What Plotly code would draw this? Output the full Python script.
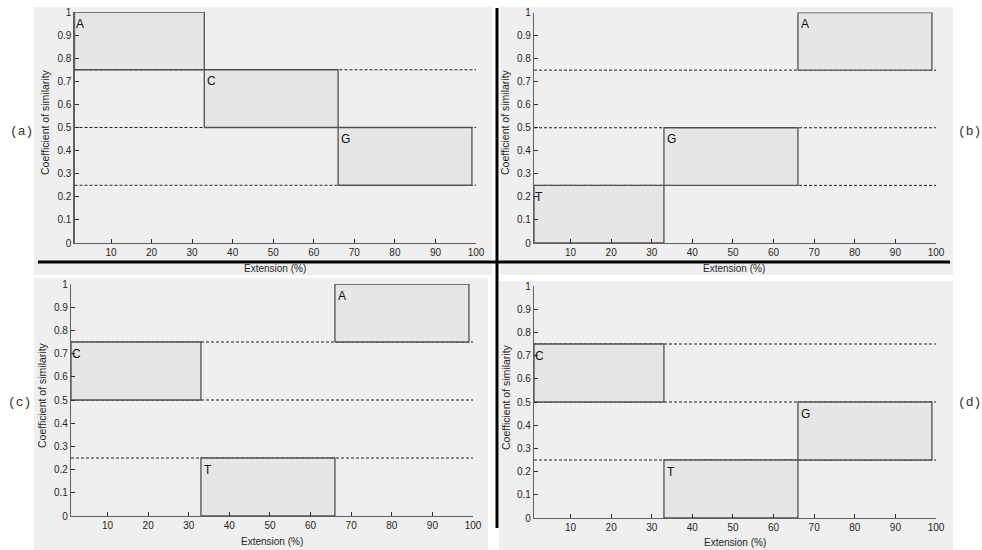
import plotly.graph_objects as go

W, H = 982, 550

# ---- data ----
panel_names = ["(a)", "(b)", "(c)", "(d)"]
a_letters = ["A", "C", "G"]
a_x0 = [1, 33, 66]
a_x1 = [33, 66, 99]
a_y0 = [0.75, 0.5, 0.25]
a_y1 = [1.0, 0.75, 0.5]

b_letters = ["T", "G", "A"]
b_x0 = [1, 33, 66]
b_x1 = [33, 66, 99]
b_y0 = [0.0, 0.25, 0.75]
b_y1 = [0.25, 0.5, 1.0]

c_letters = ["C", "T", "A"]
c_x0 = [1, 33, 66]
c_x1 = [33, 66, 99]
c_y0 = [0.5, 0.0, 0.75]
c_y1 = [0.75, 0.25, 1.0]

d_letters = ["C", "T", "G"]
d_x0 = [1, 33, 66]
d_x1 = [33, 66, 99]
d_y0 = [0.5, 0.0, 0.25]
d_y1 = [0.75, 0.25, 0.5]

threshold_levels = [0.25, 0.5, 0.75]
x_range = [1, 100]
y_range = [0, 1]
x_tick_vals = [10, 20, 30, 40, 50, 60, 70, 80, 90, 100]
x_tick_text = ["10", "20", "30", "40", "50", "60", "70", "80", "90", "100"]
y_tick_vals = [0, 0.1, 0.2, 0.3, 0.4, 0.5, 0.6, 0.7, 0.8, 0.9, 1.0]
y_tick_text = ["0", "0.1", "0.2", "0.3", "0.4", "0.5", "0.6", "0.7", "0.8", "0.9", "1"]
x_title = "Extension (%)"
y_title = "Coefficient of similarity"

panels = [
    (a_letters, a_x0, a_x1, a_y0, a_y1),
    (b_letters, b_x0, b_x1, b_y0, b_y1),
    (c_letters, c_x0, c_x1, c_y0, c_y1),
    (d_letters, d_x0, d_x1, d_y0, d_y1),
]

# ---- layout geometry (page pixels) ----
areas = [
    (74.5, 476, 12, 243),
    (534, 936, 12.5, 243),
    (71, 473, 284, 516),
    (534, 936, 286, 518),
]
bgs = [
    (34, 492, 7, 275),
    (500, 953, 7, 275),
    (34, 488, 278, 550),
    (499, 953, 281, 550),
]
ytitle_pos = [(45, 122), (505, 122), (42, 395), (506, 397)]
xtitle_pos = [(275, 268), (734, 268), (272, 541), (735, 542)]
plabel_pos = [(21, 131), (969, 131), (19, 402), (969, 402)]


def px(x):
    return x / W


def py(y):
    return 1 - y / H


fig = go.Figure()
shapes = []
annotations = []

for b in bgs:
    shapes.append(dict(type="rect", xref="paper", yref="paper",
                       x0=px(b[0]), x1=px(b[1]), y0=py(b[3]), y1=py(b[2]),
                       fillcolor="#efefef", line=dict(width=0), layer="below"))

tickfont = dict(family="Liberation Sans, Arial, sans-serif", size=10, color="#262626")
xtitle_font = dict(family="Liberation Sans, Arial, sans-serif", size=10, color="#262626")
ytitle_font = dict(family="Liberation Sans, Arial, sans-serif", size=10.5, color="#262626")

for i, (letters, x0s, x1s, y0s, y1s) in enumerate(panels):
    n = "" if i == 0 else str(i + 1)
    xa = "x" + n
    ya = "y" + n
    l, r, t, bt = areas[i]
    axis_common = dict(showgrid=False, zeroline=False, showline=True,
                       linecolor="#606060", linewidth=1.2, mirror=False,
                       ticks="inside", ticklen=4, tickcolor="#303030",
                       tickwidth=1, tickfont=tickfont, automargin=False,
                       ticklabeloverflow="allow")
    fig.layout["xaxis" + n] = dict(domain=[px(l), px(r)], anchor=ya,
                                    range=x_range, tickvals=x_tick_vals,
                                    ticktext=x_tick_text, **axis_common)
    fig.layout["yaxis" + n] = dict(domain=[py(bt), py(t)], anchor=xa,
                                    range=y_range, tickvals=y_tick_vals,
                                    ticktext=y_tick_text, **axis_common)
    for lev in threshold_levels:
        fig.add_trace(go.Scatter(x=x_range, y=[lev, lev], mode="lines",
                                 line=dict(color="#202020", width=1, dash="3px,2px"),
                                 xaxis=xa, yaxis=ya, showlegend=False,
                                 hoverinfo="skip"))
    for k in range(len(letters)):
        fig.add_trace(go.Scatter(
            x=[x0s[k], x1s[k], x1s[k], x0s[k], x0s[k]],
            y=[y0s[k], y0s[k], y1s[k], y1s[k], y0s[k]],
            mode="lines", fill="toself", fillcolor="#e6e6e6",
            line=dict(color="#505050", width=1.3),
            xaxis=xa, yaxis=ya, showlegend=False, hoverinfo="skip"))
        lx = x0s[k] + (0.5 if x0s[k] > x_range[0] else 0)
        annotations.append(dict(x=lx, y=y1s[k] - 0.05, xref=xa, yref=ya,
                                text=letters[k], showarrow=False,
                                xanchor="left", yanchor="middle", xshift=-1,
                                font=dict(family="Liberation Sans, Arial, sans-serif",
                                          size=12, color="#111111")))
    annotations.append(dict(x=px(ytitle_pos[i][0]), y=py(ytitle_pos[i][1]),
                            xref="paper", yref="paper", text=y_title,
                            showarrow=False, textangle=-90,
                            xanchor="center", yanchor="middle", font=ytitle_font))
    annotations.append(dict(x=px(xtitle_pos[i][0]), y=py(xtitle_pos[i][1]),
                            xref="paper", yref="paper", text=x_title,
                            showarrow=False, xanchor="center", yanchor="middle",
                            font=xtitle_font))
    annotations.append(dict(x=px(plabel_pos[i][0]), y=py(plabel_pos[i][1]),
                            xref="paper", yref="paper", text=panel_names[i],
                            showarrow=False, xanchor="center", yanchor="middle",
                            font=dict(family="Liberation Mono, Courier New, monospace",
                                      size=13, color="#333333")))

shapes.append(dict(type="line", xref="paper", yref="paper",
                   x0=px(38), x1=px(950), y0=py(262), y1=py(262),
                   line=dict(color="black", width=3)))
shapes.append(dict(type="line", xref="paper", yref="paper",
                   x0=px(497), x1=px(497), y0=py(8), y1=py(528),
                   line=dict(color="black", width=3)))

fig.update_layout(width=W, height=H, margin=dict(l=0, r=0, t=0, b=0),
                  paper_bgcolor="white", plot_bgcolor="white",
                  shapes=shapes, annotations=annotations, showlegend=False)

# remove the page's default body margin so the 982x550 figure fills the window
fig.write_html("out.html",
               config={"displayModeBar": False, "staticPlot": True},
               post_script="document.body.style.margin='0px';"
                           "document.body.style.overflow='hidden';")
